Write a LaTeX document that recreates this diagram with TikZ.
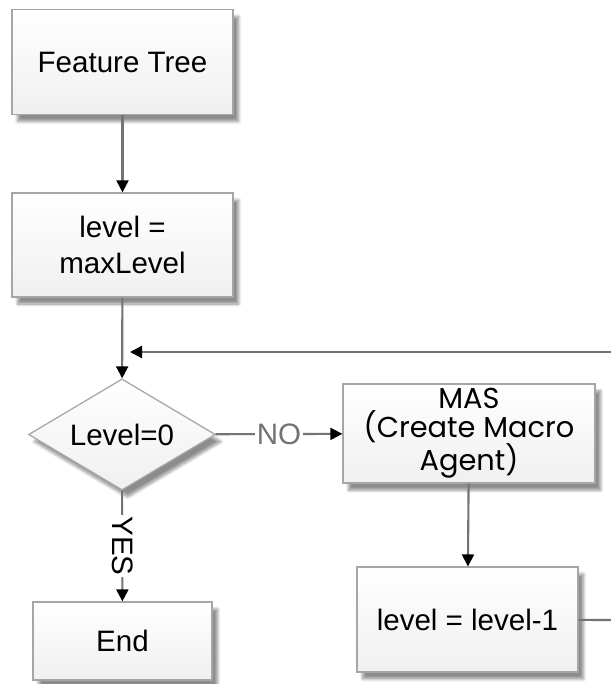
\documentclass[tikz,border=0pt]{standalone}
\usepackage{fontspec}
\setmainfont{Liberation Sans}
\newfontfamily\geofont{Poppins}
\usetikzlibrary{arrows.meta,shapes.geometric,shadows.blur}

\begin{document}
\begin{tikzpicture}[x=0.025cm,y=-0.025cm,>={Triangle[length=3mm,width=3mm,black]},
  font=\fontsize{21}{25}\selectfont,
  box/.style={draw=gray!70,line width=0.9pt,top color=white,bottom color=gray!12,
    text=black,align=center,inner sep=0pt,
    blur shadow={shadow xshift=4pt,shadow yshift=-5pt,shadow blur steps=8,shadow opacity=45}},
  line/.style={draw=gray!90!black,line width=1.5pt},
  arr/.style={line,->}]
  \useasboundingbox (0,0) rectangle (611,684);
  \node[box,minimum width=5.52cm,minimum height=2.62cm] (ft) at (122.5,62) {Feature Tree};
  \node[box,minimum width=5.52cm,minimum height=2.6cm] (ml) at (122.5,245) {level =\\maxLevel};
  \node[box,shape=diamond,aspect=1.68,minimum width=4.67cm,minimum height=2.78cm] (lz) at (122,434.5) {Level=0};
  \node[box,minimum width=6.3cm,minimum height=2.48cm,
        font=\geofont\fontsize{20.5}{19}\selectfont] (mas) at (469,433.5) {MAS\\(Create Macro\\Agent)};
  \node[box,minimum width=5.52cm,minimum height=2.62cm] (lv) at (467.5,619.5) {level = level-1};
  \node[box,minimum width=4.47cm,minimum height=1.95cm] (end) at (122.5,641) {End};
  \coordinate (ra) at (611,620);
  \coordinate (rb) at (611,352);
  \coordinate (jn) at (130,352);
  % main path
  \draw[arr] (ft) -- (ml);
  \draw[arr] (ml) -- (lz);
  \draw[arr] (lz) -- node[fill=white,inner sep=1pt,text=gray!90!black]{NO} (mas);
  \draw[arr] (lz) -- node[fill=white,inner sep=1pt,rotate=-90,text=black]{YES} (end);
  \draw[arr] (mas) -- (lv);
  % loop back
  \draw[line] (lv) -- (ra);
  \draw[arr] (rb) -- (jn);
\end{tikzpicture}
\end{document}
